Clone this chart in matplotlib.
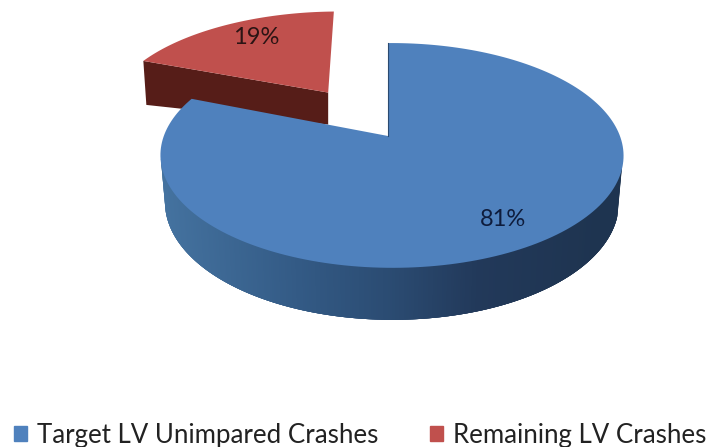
import numpy as np
import matplotlib

matplotlib.use('Agg')
import matplotlib.pyplot as plt
from matplotlib.patches import Patch
from matplotlib.colors import to_rgb

labels = ['Target LV Unimpared Crashes', 'Remaining LV Crashes']
shares = [81, 19]
top_colors = ['#4f81bd', '#c0504d']

plt.rcParams['font.family'] = ['Lato', 'DejaVu Sans']

W, H = 713, 447
fig = plt.figure(figsize=(W / 100, H / 100), dpi=100, facecolor='white')
ax = fig.add_axes([0, 0, 1, 1])
ax.set_xlim(0, W)
ax.set_ylim(H, 0)
ax.axis('off')

# perspective of the pie plane, in pixels
X0, Y0 = 388, 136
RX_BLUE, RX_RED, RY = 228, 232, 109
KV, KU = 0.173, -0.017
EXPLODE = 0.52


def project(u, v, rx=RX_BLUE):
    w = 1 + KV * v + KU * u
    return X0 + rx * u / w, Y0 - RY * v / w


def wedge(t0, t1, off=(0, 0), rx=RX_BLUE):
    t = np.radians(np.linspace(t0, t1, 200))
    u = np.r_[off[0], off[0] + np.sin(t)]
    v = np.r_[off[1], off[1] + np.cos(t)]
    return project(u, v, rx)


end_blue = 360 * shares[0] / sum(shares)
mid_red = np.radians((end_blue + 360) / 2)
off = (EXPLODE * np.sin(mid_red), EXPLODE * np.cos(mid_red))

# ============================================================
# red slice, pulled out
# ============================================================
ax_c, ay_c = project(off[0], off[1], RX_RED)
lx, ly = project(off[0] + np.sin(np.radians(end_blue)), off[1] + np.cos(np.radians(end_blue)), RX_RED)
ax.fill([lx, ax_c + 3, ax_c + 3, lx + 3], [ly, ay_c, ay_c + 32, ly + 44], color='#561d18', lw=0)
xr, yr = wedge(end_blue, 360, off, RX_RED)
xr[0] += 3
ax.fill(xr, yr, color=top_colors[1], lw=0)

# ============================================================
# blue slice side, shaded left to right
# ============================================================
grad_x = [165, 300, 400, 480, 600]
grad_c = np.array([to_rgb(c) for c in ['#44729f', '#335a85', '#2a4a70', '#22395a', '#1e3450']])

ts = np.arange(106, 256, 0.5)
for a, b in zip(ts[:-1], ts[1:]):
    # every strip runs on over the next one, so no seams show
    t = np.radians([a, b + 1.5])
    u, v = np.sin(t), np.cos(t)
    x, y = project(u, v)
    d = 46 - 6 * v
    xb = X0 + (x - X0) * 0.98
    yb = y + d
    c = [np.interp(x[0], grad_x, grad_c[:, i]) for i in range(3)]
    ax.fill([x[0], x[1], xb[1], xb[0]], [y[0] - 3, y[1] - 3, yb[1], yb[0]], color=c, lw=0)

xb, yb = wedge(0, end_blue)
ax.fill(xb, yb, color=top_colors[0], lw=0)
ax.plot([X0, X0], [Y0 - RY / (1 + KV), Y0], color='#2a4a70', lw=0.8)

# ============================================================
# labels
# ============================================================
ax.text(503, 220, f'{shares[0]}%', ha='center', va='center', fontsize=17, color='#0e1c3c')
ax.text(256, 38, f'{shares[1]}%', ha='center', va='center', fontsize=17, color='#2b1414')

handles = [Patch(color=c, label=l) for c, l in zip(top_colors, labels)]
ax.legend(handles=handles, ncol=2, loc='lower left', bbox_to_anchor=(14 / W, -1 / H),
          frameon=False, fontsize=18.6, handlelength=0.5, handleheight=0.5,
          handletextpad=0.38, columnspacing=2.0, labelcolor='#222222',
          borderpad=0, borderaxespad=0)

plt.savefig('out.png', dpi=100, facecolor='white')
plt.close()
